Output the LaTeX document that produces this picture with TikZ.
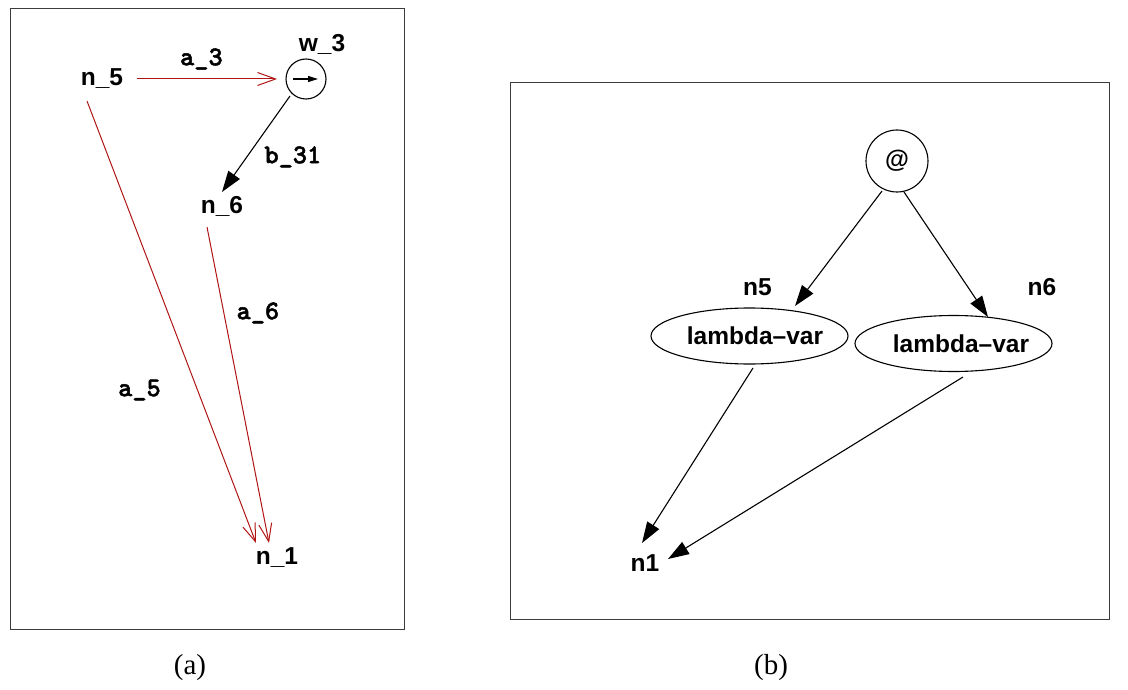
\documentclass[tikz,border=0pt]{standalone}
\usepackage{fontspec}
\setmainfont{Liberation Serif}
\setsansfont{Liberation Sans}
\newfontfamily\arcfont{lmmonolt10-bold.otf}[FakeBold=1.8]
\usetikzlibrary{shapes.geometric,positioning,arrows.meta}
\definecolor{arcred}{RGB}{176,20,20}
\definecolor{framegray}{RGB}{60,60,60}

\begin{document}
\begin{tikzpicture}[x=1pt,y=-1pt,>={Triangle[length=21pt,width=14pt]},line width=1.1pt,
  lbl/.style={font=\fontsize{24.5}{28}\selectfont\sffamily\bfseries,inner sep=0pt},
  arclbl/.style={font=\fontsize{27}{31}\selectfont\arcfont,inner sep=0pt},
  redarc/.style={draw=arcred,line width=1pt,-{Straight Barb[length=18pt,width=13pt]}},
  lv/.style={lbl,ellipse,draw,minimum width=197pt,minimum height=56pt,inner sep=0pt,inner xsep=-10pt},
  boxframe/.style={draw=framegray,line width=1pt},
  captxt/.style={font=\fontsize{29}{33}\selectfont\rmfamily}]
  \useasboundingbox (0,0) rectangle (1128,690);
  % (a)
  \draw[boxframe] (10,9) rectangle (404,629);
  \node[lbl] (n5) at (102,79) {n\_5};
  \node[circle,draw,minimum size=40pt,inner sep=0pt] (w3) at (306,79) {};
  \node[lbl] (w3l) at (322,44) {w\_3};
  \node[lbl] (n6) at (222,206) {n\_6};
  \node[lbl] (n1) at (277,558) {n\_1};
  \draw[-{Triangle[length=10pt,width=6pt]},line width=1.2pt]
    ([xshift=-13pt]w3.center) -- ([xshift=12pt]w3.center);
  \draw[redarc] ([xshift=35pt]n5.center) -- node[arclbl,pos=0.46,yshift=20pt] (a3) {a\_3}
    ([xshift=-29pt]w3.center);
  \draw[redarc] ([xshift=-15pt,yshift=-22pt]n5.center) -- node[arclbl,pos=0.654,xshift=-58pt] (a5) {a\_5}
    ([xshift=-21pt,yshift=15pt]n1.center);
  \draw[redarc] ([xshift=-15pt,yshift=-21pt]n6.center) -- node[arclbl,pos=0.272,xshift=34pt] (a6) {a\_6}
    ([xshift=-8pt,yshift=15pt]n1.center);
  \draw[->] ([xshift=-16pt,yshift=-17pt]w3.center) -- node[arclbl,pos=0.635,xshift=46pt] (b31) {b\_31}
    ([yshift=14pt]n6.center);
  \node[captxt] (capa) at (190,668) {(a)};
  % (b)
  \draw[boxframe] (510,83) rectangle (1109,619);
  \node[circle,draw,minimum size=62pt,inner sep=0pt,lbl] (at) at (897,161) {@};
  \node[lv] (lv5) at (749.5,336) {\hspace{11pt}lambda\textendash var};
  \node[lv] (lv6) at (953.5,343.5) {\hspace{15pt}lambda\textendash var};
  \node[lbl] (n5l) at (757.5,287.5) {n5};
  \node[lbl] (n6l) at (1042,287.5) {n6};
  \node[lbl] (n1l) at (645,563) {n1};
  \path[->]
    ([xshift=-15pt,yshift=-30pt]at.center) edge ([xshift=45.5pt,yshift=30pt]lv5.center)
    ([xshift=7pt,yshift=-31pt]at.center) edge ([xshift=34.5pt,yshift=26.5pt]lv6.center)
    ([xshift=3.5pt,yshift=-32pt]lv5.center) edge ([xshift=-3pt,yshift=20pt]n1l.center)
    ([xshift=9.5pt,yshift=-33.5pt]lv6.center) edge ([xshift=23pt,yshift=4pt]n1l.center);
  \node[captxt] (capb) at (771,668) {(b)};
\end{tikzpicture}
\end{document}
